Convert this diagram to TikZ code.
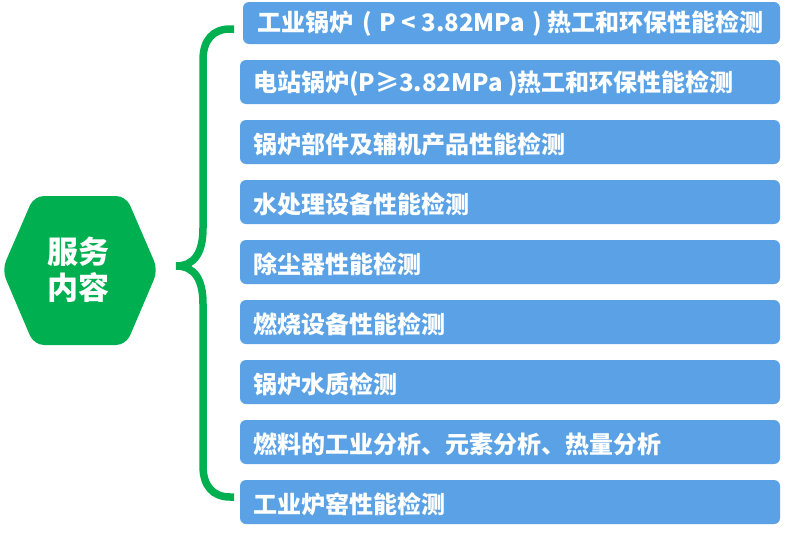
\documentclass[tikz,border=0pt]{standalone}
\usepackage{fontspec}
\newfontfamily\cjk{Noto Sans CJK SC}
\definecolor{boxblue}{HTML}{5AA2E5}
\definecolor{hexgreen}{HTML}{00B050}
\begin{document}
\begin{tikzpicture}[x=1pt,y=-1pt,
  itembox/.style={fill=boxblue, rounded corners=6pt},
  itemtext/.style={anchor=west, text=white, font=\cjk\bfseries\fontsize{24}{27}\selectfont, inner sep=0pt},
  bracestyle/.style={draw=hexgreen, line width=7.5pt, line cap=butt}]
\useasboundingbox (0,0) rectangle (806,533);
% hexagon
\fill[hexgreen, rounded corners=10pt] (2,270) -- (34,196) -- (126,196) -- (158,270) -- (126,345) -- (34,345) -- cycle;
\node[text=white, font=\cjk\bfseries\fontsize{31}{36}\selectfont, align=center, inner sep=0pt] (hex) at (78,270) {服务\\内容};
% boxes
\fill[itembox] (243,2) rectangle (780,44);
\fill[itembox] (240,60) rectangle (780,104);
\fill[itembox] (240,120) rectangle (780,164);
\fill[itembox] (240,180) rectangle (780,224);
\fill[itembox] (240,240) rectangle (780,284);
\fill[itembox] (240,300) rectangle (780,344);
\fill[itembox] (240,360) rectangle (780,404);
\fill[itembox] (240,420) rectangle (780,464);
\fill[itembox] (240,480) rectangle (780,524);
\node[itemtext] (t1) at (257,24) {工业锅炉\hspace{9pt}(\hspace{2pt} P < 3.82MPa\hspace{2pt} )\hspace{6pt}热工和环保性能检测};
\node[itemtext] (t2) at (253,84) {电站锅炉(P≥3.82MPa )热工和环保性能检测};
\node[itemtext] (t3) at (253,144) {锅炉部件及辅机产品性能检测};
\node[itemtext] (t4) at (253,204) {水处理设备性能检测};
\node[itemtext] (t5) at (253,264) {除尘器性能检测};
\node[itemtext] (t6) at (253,324) {燃烧设备性能检测};
\node[itemtext] (t7) at (253,384) {锅炉水质检测};
\node[itemtext] (t8) at (253,444) {燃料的工业分析、元素分析、热量分析};
\node[itemtext] (t9) at (253,504) {工业炉窑性能检测};
% brace
\coordinate (btop) at (234,29);
\coordinate (bbot) at (234,497);
\draw[bracestyle] (btop) -- (230,29)
  .. controls (213,29) and (203,40) .. (203,60)
  -- (203,228)
  .. controls (203,252) and (195,266) .. (176,266)
  .. controls (195,266) and (203,280) .. (203,304)
  -- (203,466)
  .. controls (203,486) and (213,497) .. (230,497) -- (bbot);
\end{tikzpicture}
\end{document}
